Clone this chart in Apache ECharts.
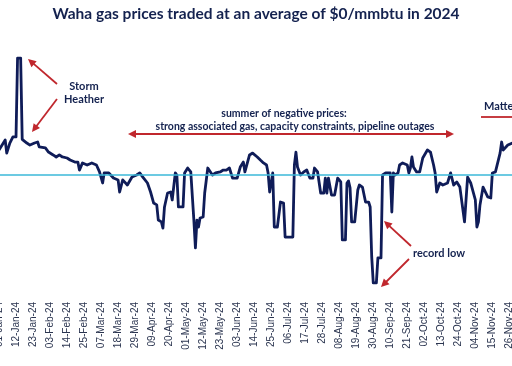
<!DOCTYPE html>
<html>
<head>
<meta charset="utf-8">
<script src="https://cdn.jsdelivr.net/npm/echarts@6/dist/echarts.min.js"></script>
<style>
html,body{margin:0;padding:0;background:#fff;}
#chart{width:512px;height:366px;}
</style>
</head>
<body>
<div id="chart"></div>
<script>
// Day offsets from 01-Jan-2024
const dayIndex = [0,4,5,7,9,10,11,12,14,15,16,18,20,21,23,25,26,30,32,35,37,39,41,44,46,49,51,52,54,57,60,63,65,67,68,71,74,77,78,80,83,86,89,91,93,96,98,100,102,103,105,106,107,109,111,112,114,115,116,119,120,122,124,125,126,127,128,129,130,132,133,135,138,140,143,145,147,149,151,154,156,158,159,160,162,164,167,169,171,173,174,175,177,178,180,182,184,185,190,191,192,193,195,197,199,201,203,204,206,208,210,211,212,213,215,217,219,221,222,224,225,226,227,228,230,232,233,235,237,239,240,241,242,244,245,246,247,248,250,253,254,255,256,258,259,261,264,265,266,267,268,270,272,274,277,279,281,282,283,285,287,290,292,294,296,298,299,301,302,303,305,308,309,310,311,313,316,318,319,321,322,324,325,326,327,329,330,332,333];
// Waha daily price, $/MMBtu
const price = [1.47,2.06,1.29,1.88,2.24,2.18,2.24,6.88,6.88,2.1,2.06,1.88,1.76,1.65,1.88,1.94,1.65,1.59,1.35,1.18,1.06,1.18,1.06,1.0,0.88,0.76,0.76,0.29,0.71,0.59,0.71,0.59,0.18,-0.47,0.12,0.12,-0.18,-0.29,-1.0,-0.29,-0.59,-0.12,0,0.12,-0.12,-0.47,-1.0,-1.65,-1.76,-2.65,-2.76,-3.12,-1.88,-1.06,-1.0,-1.47,0.12,0,-1.88,-1.88,0.12,0.41,0.18,0.18,-2.65,-4.29,-2.65,-3.06,-2.53,-2.47,-1.06,0.41,0,0.12,0.18,0.29,0.29,0.41,-0.18,-0.18,0.47,0.76,0.18,0.18,1.18,1.29,1.06,0.88,0.71,0.59,0.12,-1.0,0.12,-3.06,-3.06,-1.59,-1.65,-3.65,-3.65,0.6,1.35,0.47,0,0.18,0.29,-0.18,-0.18,0.41,0.18,-1.06,-1.06,-0.18,-1.06,-0.18,-1.18,-1.18,-0.18,-0.41,-3.82,-3.82,-0.47,-0.35,-0.76,-2.76,-2.76,-0.88,-0.59,-0.71,-1.59,-1.59,-1.88,-4.82,-6.35,-6.35,-4.88,-4.88,-4.88,0,0.12,0.12,-2.18,0.12,0,0.12,0.59,0.71,0.59,0.12,0.41,1.06,0.47,0.18,0.18,1.0,1.47,1.35,0.59,0.12,-1.0,-0.47,-0.59,-0.47,0.12,-0.59,-0.41,-0.71,-0.71,-2.76,-2.76,-0.12,-0.47,-1.47,-3.06,-2.76,-1.76,-0.71,-1.29,-1.35,0.12,0.18,0.29,1.29,1.94,1.47,1.47,1.76,1.76,1.88,1.88];
const monthNames = ['Jan','Feb','Mar','Apr','May','Jun','Jul','Aug','Sep','Oct','Nov','Dec'];
const titleText = 'Waha gas prices traded at an average of $0/mmbtu in 2024';

const seriesData = dayIndex.map((d, i) => [d, price[i]]);
function fmtDay(v) {
  const dt = new Date(Date.UTC(2024, 0, 1 + v));
  const dd = String(dt.getUTCDate()).padStart(2, '0');
  return dd + '-' + monthNames[dt.getUTCMonth()] + '-24';
}

const RED = '#c0272d', NAVY = '#14224f';
function arrowHead(x1, y1, x2, y2, len, half) {
  const a = Math.atan2(y2 - y1, x2 - x1);
  const bx = x2 - len * Math.cos(a), by = y2 - len * Math.sin(a);
  const px = -Math.sin(a) * half, py = Math.cos(a) * half;
  return { type: 'polygon', shape: { points: [[x2, y2], [bx + px, by + py], [bx - px, by - py]] }, style: { fill: RED }, silent: true };
}
function arrow(x1, y1, x2, y2) {
  const a = Math.atan2(y2 - y1, x2 - x1);
  const ex = x2 - 6 * Math.cos(a), ey = y2 - 6 * Math.sin(a);
  return [
    { type: 'line', shape: { x1: x1, y1: y1, x2: ex, y2: ey }, style: { stroke: RED, lineWidth: 1.8 }, silent: true },
    arrowHead(x1, y1, x2, y2, 8, 4)
  ];
}
function txt(x, y, text, size, align) {
  return { type: 'text', x: x, y: y, silent: true,
    style: { text: text, fill: NAVY, font: 'bold ' + size + 'px Lato, "Open Sans", sans-serif', textAlign: align || 'center', textVerticalAlign: 'middle', lineHeight: size + 2 } };
}

const graphics = [].concat(
  [txt(256, 14, titleText, 15.5)],
  [txt(84, 93, 'Storm\nHeather', 11)],
  arrow(57, 84, 28, 59),
  arrow(57, 99, 32, 132),
  [txt(284, 114, 'summer of negative prices:', 10.5)],
  [txt(295, 127, 'strong associated gas, capacity constraints, pipeline outages', 10.5)],
  [{ type: 'line', shape: { x1: 134, y1: 134, x2: 447, y2: 134 }, style: { stroke: RED, lineWidth: 1.8 }, silent: true },
   arrowHead(200, 134, 128, 134, 8, 4), arrowHead(300, 134, 454, 134, 8, 4)],
  [txt(413, 253, 'record low', 11, 'left')],
  arrow(411, 246, 384, 221),
  arrow(409, 259, 381, 287),
  [txt(484, 106, 'Matterhorn', 11, 'left')],
  [{ type: 'line', shape: { x1: 481, y1: 117, x2: 512, y2: 117 }, style: { stroke: RED, lineWidth: 1.8 }, silent: true }]
);

const chart = echarts.init(document.getElementById('chart'), null, { renderer: 'canvas' });
chart.setOption({
  animation: false,
  backgroundColor: '#ffffff',
  grid: { left: -1, right: -2, top: 56, bottom: 72, containLabel: false, outerBoundsMode: 'none' },
  xAxis: {
    type: 'value', min: 0, max: 333, interval: 11,
    axisLine: { show: false }, axisTick: { show: false }, splitLine: { show: false },
    axisLabel: { rotate: 90, formatter: fmtDay, color: '#2b3550', fontSize: 10, margin: 8,
      fontFamily: '"Liberation Sans", Arial, sans-serif', showMaxLabel: false }
  },
  yAxis: { type: 'value', min: -7, max: 7, show: false },
  series: [{
    type: 'line', data: seriesData, showSymbol: false, symbol: 'none',
    lineStyle: { color: '#0f1c58', width: 2.8, join: 'round' },
    markLine: { silent: true, symbol: 'none', label: { show: false },
      lineStyle: { color: '#3bb8d8', width: 1.6, type: 'solid' },
      data: [{ yAxis: 0 }] },
    z: 3
  }],
  graphic: graphics
});
</script>
</body>
</html>
